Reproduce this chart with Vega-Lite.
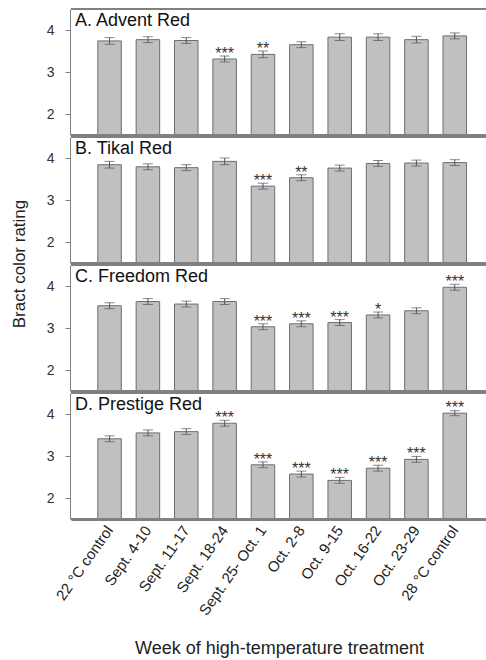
{
  "$schema": "https://vega.github.io/schema/vega-lite/v6.json",
  "padding": {"left": 10, "top": 8, "right": 0, "bottom": 0},
  "config": {
    "font": "Liberation Sans",
    "view": {"stroke": null},
    "axis": {"labelFont": "Liberation Sans", "titleFont": "Liberation Sans", "labelColor": "#333333", "titleColor": "#222222", "titleFontWeight": "normal", "grid": false, "domainColor": "#808080", "tickColor": "#808080"},
    "header": {"labelFont": "Liberation Sans", "titleFont": "Liberation Sans"}
  },
  "data": {"values": [
    {"panel": "A. Advent Red", "week": "22 °C control", "mean": 3.74, "se": 0.08, "sig": ""},
    {"panel": "A. Advent Red", "week": "Sept. 4-10", "mean": 3.77, "se": 0.07, "sig": ""},
    {"panel": "A. Advent Red", "week": "Sept. 11-17", "mean": 3.75, "se": 0.07, "sig": ""},
    {"panel": "A. Advent Red", "week": "Sept. 18-24", "mean": 3.31, "se": 0.07, "sig": "***"},
    {"panel": "A. Advent Red", "week": "Sept. 25- Oct. 1", "mean": 3.42, "se": 0.08, "sig": "**"},
    {"panel": "A. Advent Red", "week": "Oct. 2-8", "mean": 3.65, "se": 0.07, "sig": ""},
    {"panel": "A. Advent Red", "week": "Oct. 9-15", "mean": 3.83, "se": 0.08, "sig": ""},
    {"panel": "A. Advent Red", "week": "Oct. 16-22", "mean": 3.83, "se": 0.08, "sig": ""},
    {"panel": "A. Advent Red", "week": "Oct. 23-29", "mean": 3.77, "se": 0.08, "sig": ""},
    {"panel": "A. Advent Red", "week": "28 °C control", "mean": 3.86, "se": 0.07, "sig": ""},
    {"panel": "B. Tikal Red", "week": "22 °C control", "mean": 3.84, "se": 0.08, "sig": ""},
    {"panel": "B. Tikal Red", "week": "Sept. 4-10", "mean": 3.79, "se": 0.07, "sig": ""},
    {"panel": "B. Tikal Red", "week": "Sept. 11-17", "mean": 3.77, "se": 0.07, "sig": ""},
    {"panel": "B. Tikal Red", "week": "Sept. 18-24", "mean": 3.92, "se": 0.08, "sig": ""},
    {"panel": "B. Tikal Red", "week": "Sept. 25- Oct. 1", "mean": 3.33, "se": 0.07, "sig": "***"},
    {"panel": "B. Tikal Red", "week": "Oct. 2-8", "mean": 3.53, "se": 0.07, "sig": "**"},
    {"panel": "B. Tikal Red", "week": "Oct. 9-15", "mean": 3.76, "se": 0.07, "sig": ""},
    {"panel": "B. Tikal Red", "week": "Oct. 16-22", "mean": 3.87, "se": 0.07, "sig": ""},
    {"panel": "B. Tikal Red", "week": "Oct. 23-29", "mean": 3.88, "se": 0.07, "sig": ""},
    {"panel": "B. Tikal Red", "week": "28 °C control", "mean": 3.89, "se": 0.07, "sig": ""},
    {"panel": "C. Freedom Red", "week": "22 °C control", "mean": 3.53, "se": 0.07, "sig": ""},
    {"panel": "C. Freedom Red", "week": "Sept. 4-10", "mean": 3.63, "se": 0.07, "sig": ""},
    {"panel": "C. Freedom Red", "week": "Sept. 11-17", "mean": 3.57, "se": 0.07, "sig": ""},
    {"panel": "C. Freedom Red", "week": "Sept. 18-24", "mean": 3.63, "se": 0.07, "sig": ""},
    {"panel": "C. Freedom Red", "week": "Sept. 25- Oct. 1", "mean": 3.03, "se": 0.07, "sig": "***"},
    {"panel": "C. Freedom Red", "week": "Oct. 2-8", "mean": 3.10, "se": 0.07, "sig": "***"},
    {"panel": "C. Freedom Red", "week": "Oct. 9-15", "mean": 3.13, "se": 0.07, "sig": "***"},
    {"panel": "C. Freedom Red", "week": "Oct. 16-22", "mean": 3.31, "se": 0.07, "sig": "*"},
    {"panel": "C. Freedom Red", "week": "Oct. 23-29", "mean": 3.41, "se": 0.07, "sig": ""},
    {"panel": "C. Freedom Red", "week": "28 °C control", "mean": 3.97, "se": 0.07, "sig": "***"},
    {"panel": "D. Prestige Red", "week": "22 °C control", "mean": 3.41, "se": 0.07, "sig": ""},
    {"panel": "D. Prestige Red", "week": "Sept. 4-10", "mean": 3.55, "se": 0.07, "sig": ""},
    {"panel": "D. Prestige Red", "week": "Sept. 11-17", "mean": 3.58, "se": 0.07, "sig": ""},
    {"panel": "D. Prestige Red", "week": "Sept. 18-24", "mean": 3.78, "se": 0.07, "sig": "***"},
    {"panel": "D. Prestige Red", "week": "Sept. 25- Oct. 1", "mean": 2.79, "se": 0.07, "sig": "***"},
    {"panel": "D. Prestige Red", "week": "Oct. 2-8", "mean": 2.57, "se": 0.07, "sig": "***"},
    {"panel": "D. Prestige Red", "week": "Oct. 9-15", "mean": 2.42, "se": 0.07, "sig": "***"},
    {"panel": "D. Prestige Red", "week": "Oct. 16-22", "mean": 2.71, "se": 0.07, "sig": "***"},
    {"panel": "D. Prestige Red", "week": "Oct. 23-29", "mean": 2.92, "se": 0.07, "sig": "***"},
    {"panel": "D. Prestige Red", "week": "28 °C control", "mean": 4.02, "se": 0.06, "sig": "***"}
  ]},
  "spacing": {"row": 0},
  "facet": {
    "row": {"field": "panel", "type": "nominal", "title": "Bract color rating",
      "header": {"labels": false, "titleFontSize": 17, "titleFontWeight": "normal", "titleColor": "#222222", "titlePadding": 7}}
  },
  "spec": {
    "width": 416,
    "height": 126,
    "layer": [
      {"mark": {"type": "bar", "fill": "#c0c0c0", "stroke": "#6e6e6e", "strokeWidth": 1},
       "encoding": {
         "x": {"field": "week", "type": "nominal", "sort": null,
           "scale": {"paddingInner": 0.387, "paddingOuter": 0.616, "align": 0.567},
           "axis": {"title": "Week of high-temperature treatment", "titleFontSize": 18, "labelFontSize": 15, "labelAngle": -55, "labelAlign": "right", "labelBaseline": "middle", "ticks": false, "labelPadding": 7, "titlePadding": 22, "labelColor": "#222222"}},
         "y": {"field": "mean", "type": "quantitative", "scale": {"domain": [1.5, 4.5], "nice": false, "zero": false},
           "axis": {"title": null, "values": [2, 3, 4], "labelFontSize": 14, "labelPadding": 11, "tickSize": 5, "domain": true}},
         "y2": {"datum": 1.5}
       }},
      {"mark": {"type": "errorbar", "ticks": {"size": 10, "color": "#555555"}, "color": "#555555", "thickness": 1},
       "encoding": {
         "x": {"field": "week", "type": "nominal", "sort": null},
         "y": {"field": "mean", "type": "quantitative"},
         "yError": {"field": "se"}
       }},
      {"mark": {"type": "text", "fontSize": 16, "color": "#333333", "baseline": "alphabetic", "dy": 0},
       "encoding": {
         "x": {"field": "week", "type": "nominal", "sort": null},
         "y": {"field": "mean", "type": "quantitative"},
         "text": {"field": "sig"}
       }},
      {"transform": [{"filter": "datum.week === '22 °C control'"}],
       "mark": {"type": "text", "fontSize": 18, "color": "#111111", "align": "left", "baseline": "alphabetic", "dx": -34.5, "dy": 17},
       "encoding": {
         "x": {"field": "week", "type": "nominal", "sort": null},
         "y": {"datum": 4.5},
         "text": {"field": "panel"}
       }},
      {"mark": {"type": "rule", "color": "#808080", "strokeWidth": 1},
       "encoding": {"y": {"datum": 4.5}}},
      {"mark": {"type": "rule", "color": "#808080", "strokeWidth": 1},
       "encoding": {"y": {"datum": 1.5}}}
    ]
  }
}
